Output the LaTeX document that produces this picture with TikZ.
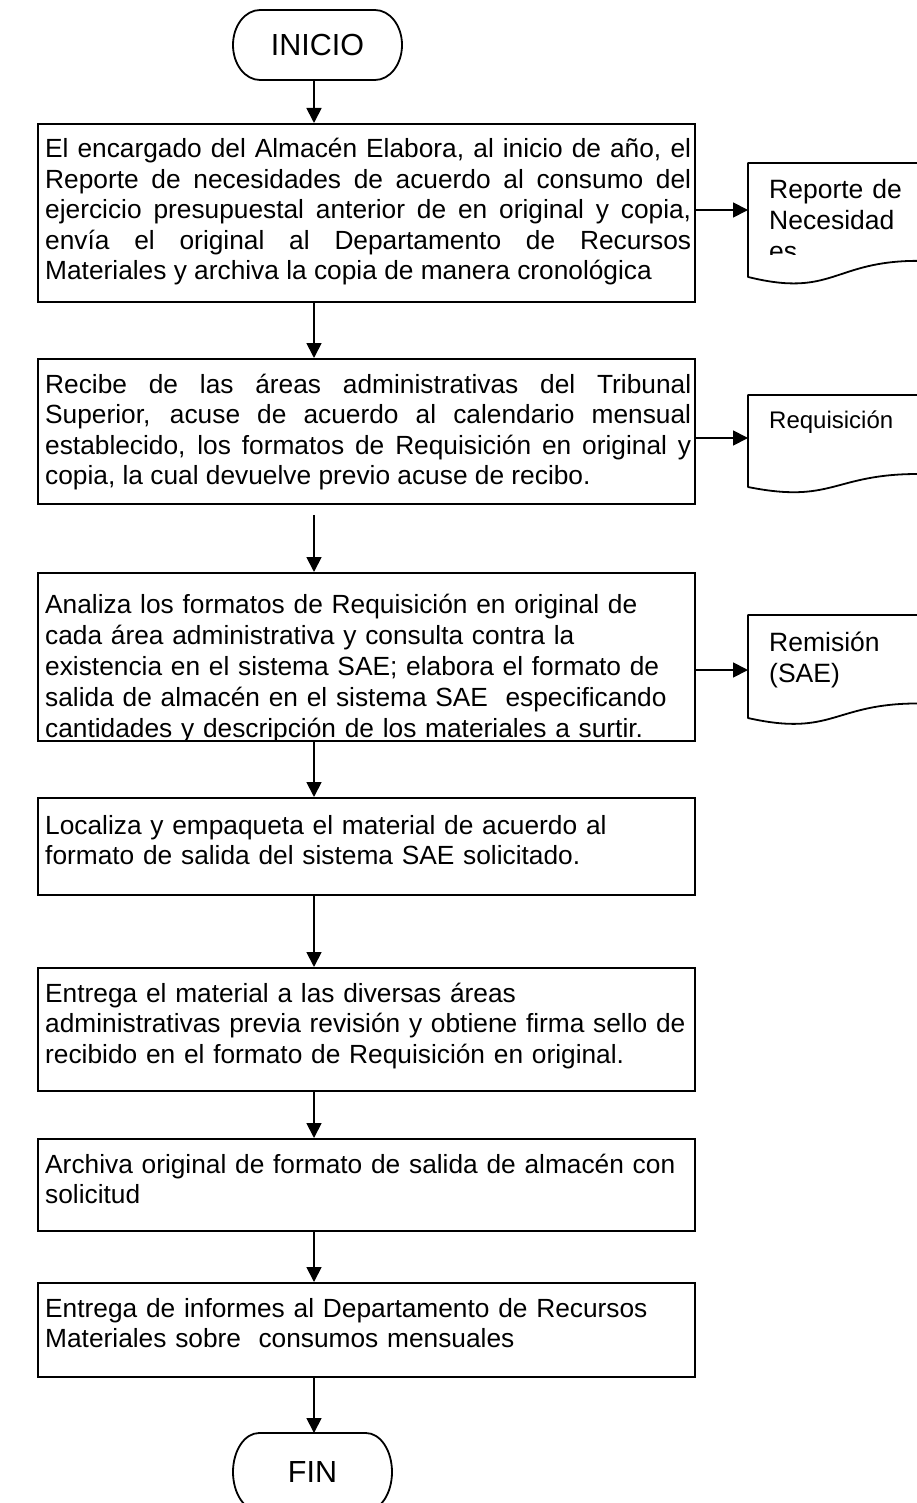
\documentclass[tikz,border=0pt]{standalone}
\usepackage{fontspec}
\setmainfont{Liberation Sans}
\usetikzlibrary{arrows.meta}
\tolerance=10000
\hyphenpenalty=10000
\exhyphenpenalty=10000

\newcommand{\termoutline}[3]{%
  \pgfmathsetmacro{\kx}{#2*(1-0.5523)}%
  \pgfmathsetmacro{\ky}{#3*0.5523}%
  \draw[outline] ([xshift=#2pt]#1.north west) -- ([xshift=-#2pt]#1.north east)
    .. controls ([xshift=-\kx pt]#1.north east) and ([yshift=\ky pt]#1.east) .. (#1.east)
    .. controls ([yshift=-\ky pt]#1.east) and ([xshift=-\kx pt]#1.south east) .. ([xshift=-#2pt]#1.south east)
    -- ([xshift=#2pt]#1.south west)
    .. controls ([xshift=\kx pt]#1.south west) and ([yshift=-\ky pt]#1.west) .. (#1.west)
    .. controls ([yshift=\ky pt]#1.west) and ([xshift=\kx pt]#1.north west) .. cycle;}

\newcommand{\docoutline}[2]{%
  \pgfmathsetmacro{\dr}{0.802*#2}%
  \pgfmathsetmacro{\dc}{1.107*#2}%
  \pgfmathsetmacro{\dl}{0.934*#2}%
  \draw[outline] (#1.north west) -- (#1.north east) -- ([yshift=-\dr pt]#1.north east)
    .. controls ([xshift=-85pt,yshift=-\dr pt]#1.north east) and ([xshift=85pt,yshift=-\dc pt]#1.north west)
    .. ([yshift=-\dl pt]#1.north west) -- cycle;}

\begin{document}
\begin{tikzpicture}[x=1pt,y=-1pt,
   procbox/.style={draw,line width=1.8pt,anchor=north west,inner sep=0pt,minimum width=657},
   boxtext/.style={anchor=base west,inner sep=0pt,text width=646pt,
     font=\fontsize{26.3}{30.5}\selectfont},
   termnode/.style={inner sep=0pt,outer sep=0pt,font=\fontsize{30.5}{34}\selectfont},
   docnode/.style={anchor=north west,inner sep=0pt,outer sep=0pt,minimum width=170},
   doctext/.style={anchor=base west,inner sep=0pt,text width=140pt,align=left},
   outline/.style={line width=1.8pt,line join=round},
   flow/.style={line width=1.8pt,-{Triangle[length=15pt,width=15pt]}}]
   \useasboundingbox (0,0) rectangle (917,1503);
   \clip (0,0) rectangle (917,1503);
   \fill[white] (0,0) rectangle (917,1503);
   \coordinate (axis) at (314,0);
   % Terminals
   \node[termnode,minimum width=169,minimum height=70] (ini) at (317.5,45) {INICIO};
   \termoutline{ini}{27}{35}
   \node[termnode,minimum width=159,minimum height=78] (fin) at (312.5,1472) {FIN};
   \termoutline{fin}{26}{39}
   % Steps
   \node[procbox,minimum height=178] (b1) at (37,123) {};
   \node[boxtext,align=justify] (t1) at (45,158) {El encargado del Almacén Elabora, al inicio de año, el\linebreak
     Reporte de necesidades de acuerdo al consumo del\linebreak
     ejercicio presupuestal anterior de en original y copia,\linebreak
     envía el original al Departamento de Recursos\linebreak
     Materiales y archiva la copia de manera cronológica};
   \node[procbox,minimum height=145] (b2) at (37,358) {};
   \node[boxtext,align=justify] (t2) at (45,393) {Recibe de las áreas administrativas del Tribunal\linebreak
     Superior, acuse de acuerdo al calendario mensual\linebreak
     establecido, los formatos de Requisición en original y\linebreak
     copia, la cual devuelve previo acuse de recibo.};
   \node[procbox,minimum height=168] (b3) at (37,572) {};
   \begin{scope}
     \clip (b3.north west) rectangle (b3.south east);
     \node[boxtext,align=left,font=\fontsize{26.3}{31}\selectfont] (t3) at (45,613) {Analiza los formatos de Requisición en original de\\
       cada área administrativa y consulta contra la\\
       existencia en el sistema SAE; elabora el formato de\\
       salida de almacén en el sistema SAE\ \ especificando\\
       cantidades y descripción de los materiales a surtir.};
   \end{scope}
   \node[procbox,minimum height=97] (b4) at (37,797) {};
   \node[boxtext,align=left] (t4) at (45,834) {Localiza y empaqueta el material de acuerdo al\\
     formato de salida del sistema SAE solicitado.};
   \node[procbox,minimum height=123] (b5) at (37,967) {};
   \node[boxtext,align=left] (t5) at (45,1002) {Entrega el material a las diversas áreas\\
     administrativas previa revisión y obtiene firma sello de\\
     recibido en el formato de Requisición en original.};
   \node[procbox,minimum height=92] (b6) at (37,1138) {};
   \node[boxtext,align=left] (t6) at (45,1173) {Archiva original de formato de salida de almacén con\\
     solicitud};
   \node[procbox,minimum height=94] (b7) at (37,1282) {};
   \node[boxtext,align=left] (t7) at (45,1317) {Entrega de informes al Departamento de Recursos\\
     Materiales sobre\ \ consumos mensuales};
   % Documents
   \node[docnode,minimum height=94] (rep) at (748,163) {};
   \docoutline{rep}{122}
   \begin{scope}
     \clip (748,163) rectangle (918,255);
     \node[doctext,font=\fontsize{26.5}{31}\selectfont] (reptxt) at (769,199) {Reporte de\\Necesidad\\es};
   \end{scope}
   \node[docnode,minimum height=86] (req) at (748,395) {};
   \docoutline{req}{98.5}
   \node[doctext,font=\fontsize{24}{28}\selectfont] (reqtxt) at (769,428) {Requisición};
   \node[docnode,minimum height=110] (rem) at (748,615) {};
   \docoutline{rem}{110.3}
   \node[doctext,font=\fontsize{26.5}{31}\selectfont] (remtxt) at (769,651) {Remisión\\(SAE)};
   % Arrows
   \coordinate (b2out) at ([yshift=-10pt]b2.south);
   \draw[flow] (ini.south -| axis) -- (b1.north -| axis);
   \draw[flow] (b1.south -| axis) -- (b2.north -| axis);
   \draw[flow] (b2out -| axis) -- (b3.north -| axis);
   \draw[flow] (b3.south -| axis) -- (b4.north -| axis);
   \draw[flow] (b4.south -| axis) -- (b5.north -| axis);
   \draw[flow] (b5.south -| axis) -- (b6.north -| axis);
   \draw[flow] (b6.south -| axis) -- (b7.north -| axis);
   \draw[flow] (b7.south -| axis) -- (fin.north -| axis);
   \draw[flow] (b1.east |- rep.west) -- (rep.west);
   \draw[flow] (b2.east |- req.west) -- (req.west);
   \draw[flow] (b3.east |- rem.west) -- (rem.west);
\end{tikzpicture}
\end{document}
